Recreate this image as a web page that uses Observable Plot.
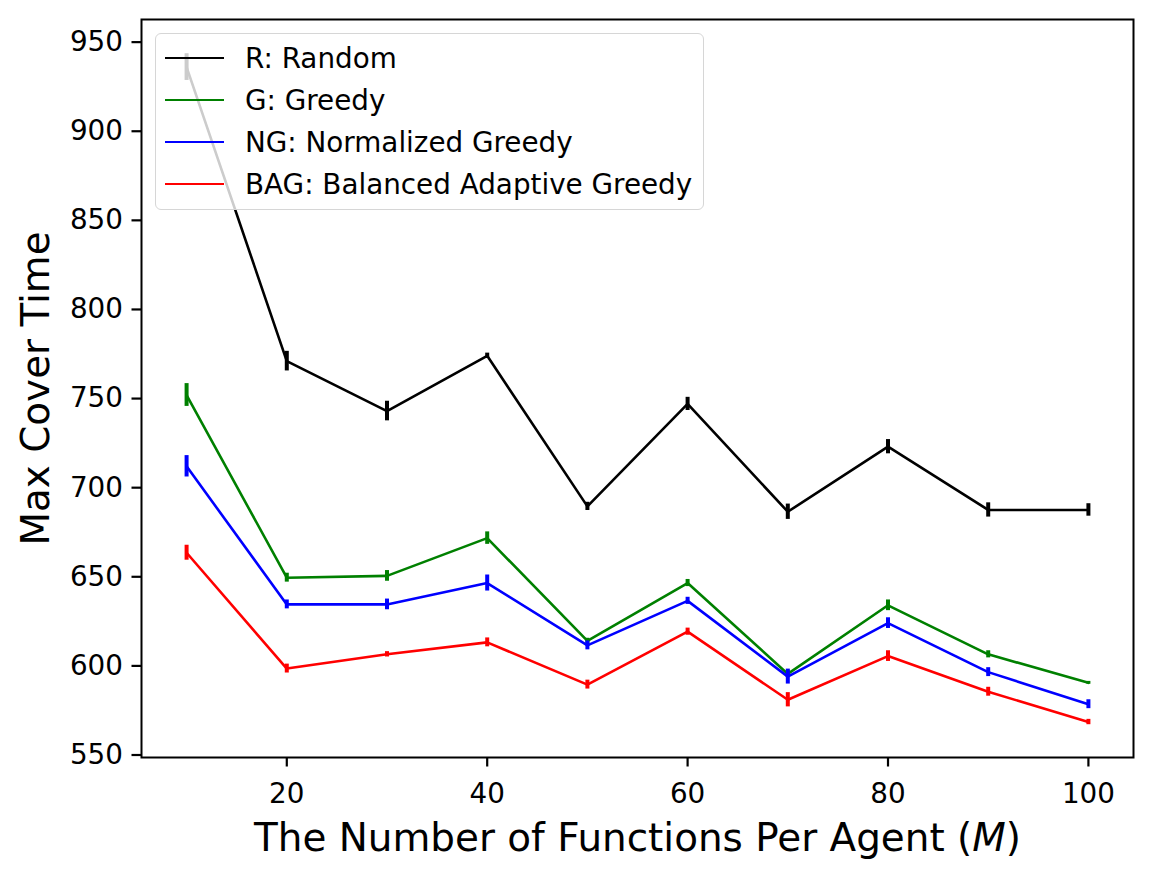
<!DOCTYPE html>
<html>
<head>
<meta charset="utf-8">
<script src="https://cdn.jsdelivr.net/npm/d3@7"></script>
<script src="https://cdn.jsdelivr.net/npm/@observablehq/plot@0.6"></script>
<style>
  html, body { margin: 0; padding: 0; background: white; overflow: hidden; }
  #wrap { position: relative; width: 1153px; height: 879px; font-family: "DejaVu Sans", sans-serif; }
  #legend { position: absolute; left: 155px; top: 33px; width: 549px; height: 177px; box-sizing: border-box;
    border: 1.5px solid #d6d6d6; border-radius: 6px; background: rgba(255,255,255,0.8); }
  .row { position: absolute; left: 0; height: 42px; display: flex; align-items: center; font-size: 27.8px; color: #000; white-space: nowrap; }
  .handle { width: 59px; height: 2.6px; margin-left: 9px; }
  .lab { margin-left: 21px; }
</style>
</head>
<body>
<div id="wrap"></div>
<script>
// ---- data ----
const M = [10, 20, 30, 40, 50, 60, 70, 80, 90, 100];
const seriesNames = ["R: Random", "G: Greedy", "NG: Normalized Greedy", "BAG: Balanced Adaptive Greedy"];
const seriesColors = ["#000000", "#008000", "#0000ff", "#ff0000"];
const randomVals = [936, 771, 743, 774, 689.5, 747, 686.5, 723, 687.5, 687.5];
const randomErr  = [7.5, 5.5, 5.5, 1.5, 2.3, 3.7, 4.3, 4, 4, 3.5];
const greedyVals = [752, 649.5, 650.5, 671.7, 614, 646.5, 595.5, 634, 606.5, 590.5];
const greedyErr  = [6.4, 2.5, 3, 3.5, 1.5, 2, 2, 3, 2, 0.8];
const ngVals     = [712, 634.5, 634.5, 646.5, 611.5, 636.5, 594, 624, 596.5, 578.5];
const ngErr      = [6, 2.5, 3, 4.5, 2.5, 2, 4.2, 3, 2.5, 2.5];
const bagVals    = [663.5, 598.5, 606.5, 613.2, 589.5, 619.2, 581, 605.5, 585.5, 568.5];
const bagErr     = [4.2, 2.5, 1.5, 2.5, 2.5, 2, 4, 3, 2.5, 1.5];
const xTicks = [20, 40, 60, 80, 100];
const yTicks = [550, 600, 650, 700, 750, 800, 850, 900, 950];
const xLabel = "The Number of Functions Per Agent (M)";
const yLabel = "Max Cover Time";

const allVals = [randomVals, greedyVals, ngVals, bagVals];
const allErr = [randomErr, greedyErr, ngErr, bagErr];

const marks = [];
seriesNames.forEach((name, s) => {
  const rows = M.map((m, i) => ({m, v: allVals[s][i], lo: allVals[s][i] - allErr[s][i], hi: allVals[s][i] + allErr[s][i]}));
  const c = seriesColors[s];
  marks.push(Plot.line(rows, {x: "m", y: "v", stroke: c, strokeWidth: 2.6}));
  marks.push(Plot.ruleX(rows, {x: "m", y1: "lo", y2: "hi", stroke: c, strokeWidth: 4}));
});

const chart = Plot.plot({
  width: 1153,
  height: 879,
  marginLeft: 141,
  marginRight: 20,
  marginTop: 19,
  marginBottom: 122,
  style: {fontFamily: "DejaVu Sans", background: "white", color: "black"},
  x: {domain: [5.5, 104.5]},
  y: {domain: [548.6, 962.7]},
  marks: [
    ...marks,
    Plot.frame({stroke: "black", strokeWidth: 2}),
    Plot.axisY({ticks: yTicks, tickSize: 9.5, tickPadding: 9, fontSize: 27.8, label: null, strokeWidth: 2.2}),
    Plot.axisX({ticks: xTicks, tickSize: 9.5, tickPadding: 16, fontSize: 27.8, label: null, strokeWidth: 2.2}),
    Plot.text([xLabel], {text: d => d, frameAnchor: "bottom", dy: 93, lineAnchor: "bottom", textAnchor: "middle", fontSize: 38.9, fill: "black"}),
    Plot.text([yLabel], {text: d => d, frameAnchor: "left", dx: -105, rotate: -90, lineAnchor: "middle", textAnchor: "middle", fontSize: 38.9, fill: "black"})
  ]
});

// italic M in x label
d3.select(chart).selectAll("text").each(function() {
  const el = d3.select(this);
  if (el.text() === xLabel) {
    const idx = xLabel.lastIndexOf("M");
    el.selectAll("*").remove();
    el.text(null);
    el.append("tspan").text(xLabel.slice(0, idx));
    el.append("tspan").attr("font-style", "italic").text(xLabel.slice(idx, idx + 1));
    el.append("tspan").text(xLabel.slice(idx + 1));
  }
});

const wrap = document.getElementById("wrap");
wrap.appendChild(chart);

// legend
const legend = document.createElement("div");
legend.id = "legend";
seriesNames.forEach((name, s) => {
  const row = document.createElement("div");
  row.className = "row";
  row.style.top = (3 + s * 42) + "px";
  const h = document.createElement("div");
  h.className = "handle";
  h.style.background = seriesColors[s];
  const t = document.createElement("span");
  t.className = "lab";
  t.textContent = name;
  row.appendChild(h);
  row.appendChild(t);
  legend.appendChild(row);
});
wrap.appendChild(legend);
</script>
</body>
</html>
